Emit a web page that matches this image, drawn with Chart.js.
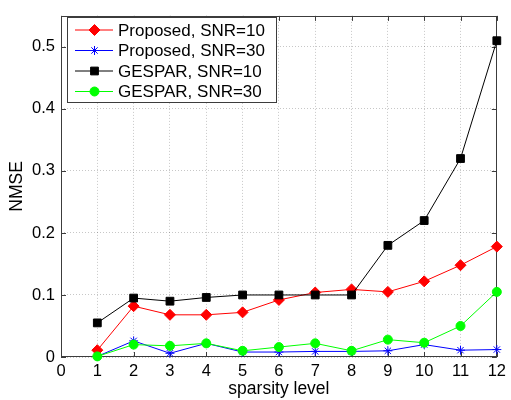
<!DOCTYPE html>
<html><head><meta charset="utf-8">
<script src="https://cdn.jsdelivr.net/npm/chart.js@4/dist/chart.umd.min.js"></script>
<style>html,body{margin:0;padding:0;background:#fff}#wrap{width:511px;height:400px}</style>
</head><body><div id="wrap"><canvas id="c" width="511" height="400"></canvas></div>
<script>
const sparsity = [1,2,3,4,5,6,7,8,9,10,11,12];
const proposedSNR10 = [0.011,0.082,0.068,0.068,0.072,0.092,0.104,0.109,0.105,0.122,0.148,0.178];
const proposedSNR30 = [0.001,0.026,0.006,0.022,0.008,0.008,0.009,0.009,0.010,0.020,0.011,0.012];
const gesparSNR10   = [0.055,0.095,0.090,0.096,0.100,0.100,0.100,0.100,0.180,0.220,0.320,0.510];
const gesparSNR30   = [0.001,0.020,0.018,0.022,0.010,0.016,0.022,0.010,0.028,0.023,0.050,0.105];
const seriesNames = ['Proposed, SNR=10','Proposed, SNR=30','GESPAR, SNR=10','GESPAR, SNR=30'];
const xTickValues = [0,1,2,3,4,5,6,7,8,9,10,11,12];
const yTickValues = [0,0.1,0.2,0.3,0.4,0.5];
const xTitle = 'sparsity level';
const yTitle = 'NMSE';

const FONT = 'Arial, "Liberation Sans", Helvetica, sans-serif';
const FRAME = '#3c3c3c';

function pts(arr){ return sparsity.map((x,i)=>({x:x,y:arr[i]})); }

const styles = [
  {color:'#ff0000', pointStyle:'rectRot', radius:5.5, order:3},
  {color:'#0000ff', pointStyle:'star', radius:4.5, order:2},
  {color:'#000000', pointStyle:'rect', radius:5.5, order:1},
  {color:'#00ff00', pointStyle:'circle', radius:4.5, order:0}
];
const values = [proposedSNR10, proposedSNR30, gesparSNR10, gesparSNR30];

const datasets = values.map((v,i)=>({
  label: seriesNames[i],
  data: pts(v),
  borderColor: styles[i].color,
  backgroundColor: styles[i].color,
  pointBackgroundColor: styles[i].color,
  pointBorderColor: styles[i].color,
  pointStyle: styles[i].pointStyle,
  pointRadius: styles[i].radius,
  pointBorderWidth: 1,
  borderWidth: 1,
  tension: 0,
  clip: false,
  order: styles[i].order
}));

function drawMarker(ctx, style, x, y){
  ctx.save();
  ctx.fillStyle = style.color; ctx.strokeStyle = style.color; ctx.lineWidth = 1;
  if (Chart.helpers && Chart.helpers.drawPoint) {
    Chart.helpers.drawPoint(ctx, {pointStyle: style.pointStyle, radius: style.radius, borderWidth: 1, rotation: 0}, x, y);
  }
  ctx.restore();
}

const framePlugin = {
  id: 'frame',
  beforeDatasetsDraw(chart){
    const {ctx, chartArea:a, scales:{x, y}} = chart;
    ctx.save();
    ctx.strokeStyle = FRAME; ctx.lineWidth = 1;
    ctx.strokeRect(Math.round(a.left)+0.5, Math.round(a.top)+0.5, Math.round(a.right-a.left)-1, Math.round(a.bottom-a.top)-1);
    const L = 5;
    ctx.beginPath();
    xTickValues.forEach(v=>{
      const px = Math.round(x.getPixelForValue(v))+0.5;
      ctx.moveTo(px, a.bottom); ctx.lineTo(px, a.bottom-L);
      ctx.moveTo(px, a.top); ctx.lineTo(px, a.top+L);
    });
    yTickValues.forEach(v=>{
      const py = Math.round(y.getPixelForValue(v))+0.5;
      ctx.moveTo(a.left, py); ctx.lineTo(a.left+L, py);
      ctx.moveTo(a.right, py); ctx.lineTo(a.right-L, py);
    });
    ctx.stroke();
    ctx.restore();
  },
  afterDraw(chart){
    const ctx = chart.ctx;
    ctx.save();
    const bx=67.5, by=17.5, bw=209, bh=85;
    ctx.fillStyle='#fff'; ctx.fillRect(bx,by,bw,bh);
    ctx.strokeStyle=FRAME; ctx.lineWidth=1; ctx.strokeRect(bx,by,bw,bh);
    ctx.font = '17px '+FONT; ctx.textBaseline='middle'; ctx.textAlign='left';
    seriesNames.forEach((name,i)=>{
      const yy = 30 + i*20.5;
      const st = styles[i];
      ctx.strokeStyle = st.color; ctx.lineWidth=1;
      ctx.beginPath(); ctx.moveTo(75, yy); ctx.lineTo(113, yy); ctx.stroke();
      drawMarker(ctx, st, 94.5, yy);
      ctx.fillStyle='#000';
      ctx.fillText(name, 118, yy+1);
    });
    ctx.restore();
  }
};

new Chart(document.getElementById('c'), {
  type: 'line',
  data: { datasets },
  options: {
    responsive: false,
    animation: false,
    devicePixelRatio: 1,
    layout: { padding: {left:0, top:11, right:10, bottom:0} },
    plugins: { legend:{display:false}, tooltip:{enabled:false} },
    scales: {
      x: {
        type:'linear', min:0, max:12,
        afterFit(s){ s.height = 43; },
        afterBuildTicks(s){ s.ticks = xTickValues.map(v=>({value:v})); },
        grid: { color:'rgba(0,0,0,0.22)', drawTicks:false, lineWidth:1 },
        border: { display:false, dash:[1,2] },
        ticks: { color:'#000', font:{family:FONT, size:16.5}, padding:5, maxRotation:0, autoSkip:false },
        title: { display:true, text:xTitle, color:'#000', font:{family:FONT, size:17.5}, padding:{top:0,bottom:0} }
      },
      y: {
        type:'linear', min:0, max:0.55,
        afterFit(s){ s.width = 61; },
        afterBuildTicks(s){ s.ticks = yTickValues.map(v=>({value:v})); },
        grid: { color:'rgba(0,0,0,0.22)', drawTicks:false, lineWidth:1 },
        border: { display:false, dash:[1,2] },
        ticks: { color:'#000', font:{family:FONT, size:16.5}, padding:6,
          callback:(v)=> v===0 ? '0' : v.toFixed(1) },
        title: { display:true, text:yTitle, color:'#000', font:{family:FONT, size:17.5}, padding:{top:7,bottom:0} }
      }
    }
  },
  plugins: [framePlugin]
});
</script></body></html>
